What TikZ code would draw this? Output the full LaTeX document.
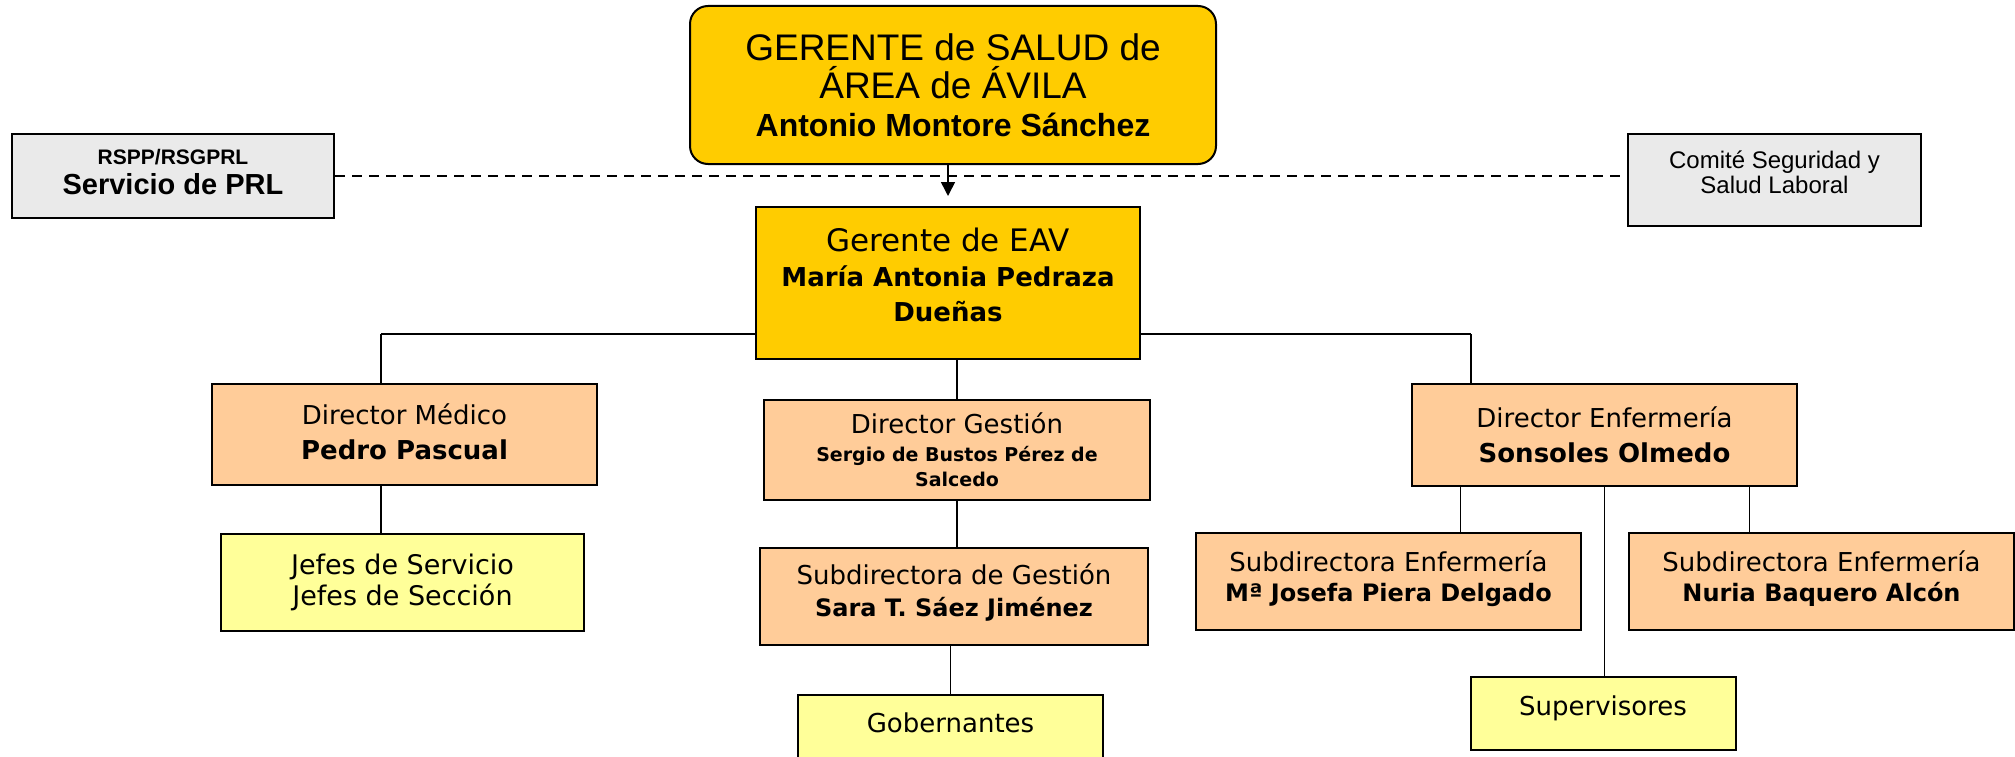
\documentclass[tikz,border=0pt]{standalone}
\usepackage{fontspec}
\setmainfont{DejaVu Sans}
\newfontfamily\arialfont{Liberation Sans}
\usetikzlibrary{arrows.meta}
\definecolor{gold}{HTML}{FFCC00}
\definecolor{peach}{HTML}{FFCC99}
\definecolor{paleyellow}{HTML}{FFFF99}
\definecolor{palegray}{HTML}{EAEAEA}

\begin{document}
\begin{tikzpicture}[x=1pt,y=-1pt]
\tikzstyle{every node}+=[inner sep=0pt]
\tikzstyle{box}=[draw=black,line width=2pt,align=center,font=\fontsize{26}{35}\selectfont]
\tikzstyle{head}=[box,fill=gold]
\tikzstyle{director}=[box,fill=peach]
\tikzstyle{staff}=[box,fill=paleyellow]
\tikzstyle{side}=[box,fill=palegray]
\tikzstyle{link}=[line width=1.6pt]
\useasboundingbox (0,0) rectangle (2015,757);
\node[head,rounded corners=18pt,font=\arialfont\fontsize{37}{38}\selectfont,minimum width=526pt,minimum height=158pt] (gerente) at (953,85) {GERENTE de SALUD de\\ÁREA de ÁVILA\\{\fontsize{32}{38}\selectfont\bfseries Antonio Montore Sánchez}};
\node[side,font=\arialfont\fontsize{21}{30}\selectfont,minimum width=322pt,minimum height=84pt] (prl) at (173,176) {\textbf{RSPP/RSGPRL}\\{\fontsize{29}{30}\selectfont\bfseries Servicio de PRL}\rule[-8pt]{0pt}{8pt}};
\node[side,font=\arialfont\fontsize{24}{25}\selectfont,minimum width=293pt,minimum height=92pt] (comite) at (1774.5,180) {Comité Seguridad y\\Salud Laboral\rule[-16pt]{0pt}{16pt}};
\node[head,font=\fontsize{31}{35}\selectfont,minimum width=384pt,minimum height=152pt] (eav) at (948,283) {Gerente de EAV\\{\bfseries\fontsize{26}{35}\selectfont María Antonia Pedraza}\\{\bfseries\fontsize{26}{35}\selectfont Dueñas}\rule[-16pt]{0pt}{16pt}};
\node[director,minimum width=385pt,minimum height=101pt] (dmed) at (404.5,434.5) {Director Médico\\\textbf{Pedro Pascual}\rule[-5pt]{0pt}{5pt}};
\node[staff,font=\fontsize{27}{31}\selectfont,minimum width=363pt,minimum height=97pt] (jefes) at (402.5,582.5) {Jefes de Servicio\\Jefes de Sección};
\node[director,font=\fontsize{26}{25}\selectfont,minimum width=386pt,minimum height=100pt] (dges) at (957,449.5) {Director Gestión\\[3pt]{\bfseries\fontsize{19}{25}\selectfont Sergio de Bustos Pérez de}\\{\bfseries\fontsize{19}{25}\selectfont Salcedo}};
\node[director,font=\fontsize{26}{32}\selectfont,minimum width=388pt,minimum height=97pt] (sges) at (954,596.5) {Subdirectora de Gestión\\{\bfseries\fontsize{24}{32}\selectfont Sara T. Sáez Jiménez}\rule[-13pt]{0pt}{13pt}};
\node[staff,text height=37pt,text depth=50pt,minimum width=305pt,anchor=base] (gob) at (950.5,732) {Gobernantes};
\node[director,minimum width=385pt,minimum height=102pt] (denf) at (1604.5,435) {Director Enfermería\\\textbf{Sonsoles Olmedo}};
\node[director,font=\fontsize{26}{30}\selectfont,minimum width=385pt,minimum height=97pt] (senf1) at (1388.5,581.5) {Subdirectora Enfermería\\{\bfseries\fontsize{24}{30}\selectfont Mª Josefa Piera Delgado}\rule[-10pt]{0pt}{10pt}};
\node[director,font=\fontsize{26}{30}\selectfont,minimum width=385pt,minimum height=97pt] (senf2) at (1821.5,581.5) {Subdirectora Enfermería\\{\bfseries\fontsize{24}{30}\selectfont Nuria Baquero Alcón}\rule[-10pt]{0pt}{10pt}};
\node[staff,text height=38pt,text depth=35pt,minimum width=265pt,anchor=base] (sup) at (1603,715) {Supervisores};
\coordinate (arrowtip) at ([yshift=10pt]eav.north);
\coordinate (busL) at (381,334);
\coordinate (busR) at (1471,334);
\draw[link,-{Triangle[width=14pt,length=14pt]}] (arrowtip |- gerente.south) -- (arrowtip);
\draw[link,dash pattern=on 10pt off 7pt] (prl.east) -- (prl.east -| comite.west);
\draw[link] (busL) -- (busL -| eav.west);
\draw[link] (busR -| eav.east) -- (busR);
\draw[link] (busL) -- (busL |- dmed.north);
\draw[link] (busR) -- (busR |- denf.north);
\draw[link] (dges.north |- eav.south) -- (dges.north);
\draw[link] (busL |- dmed.south) -- (busL |- jefes.north);
\draw[link] (dges.south) -- (dges.south |- sges.north);
\draw[link] (gob.north |- sges.south) -- (gob.north);
\draw[link] ([xshift=72pt]senf1.north |- denf.south) -- ([xshift=72pt]senf1.north);
\draw[link] ([xshift=-72pt]senf2.north |- denf.south) -- ([xshift=-72pt]senf2.north);
\draw[link] (denf.south) -- (denf.south |- sup.north);
\end{tikzpicture}
\end{document}
